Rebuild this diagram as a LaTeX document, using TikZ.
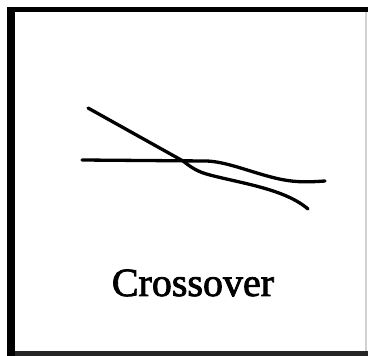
\documentclass[tikz,border=0pt]{standalone}
\usepackage{fontspec}
\setmainfont{Liberation Serif}
\newfontfamily\labelfont[FakeBold=2]{Liberation Serif}
\tikzset{
  curve/.style={line width=3.3pt, line cap=round, black},
  label/.style={font=\labelfont\fontsize{40}{40}\selectfont, inner sep=0pt, anchor=base}
}
\begin{document}
\begin{tikzpicture}[x=1pt,y=-1pt]
\useasboundingbox (0,0) rectangle (368,356);
\fill[white] (0,0) rectangle (368,356);
% frame
\fill[black] (7,7) rectangle (15,356);
\fill[black] (7,7) rectangle (368,12.5);
\fill[black!85] (15,351.5) rectangle (368,356);
\fill[black!18] (365.5,12.5) rectangle (366.8,351.5);
% line 1 (diagonal)
\draw[curve] (88,108) -- (183,161) .. controls (192,168) and (198,172) .. (210,175)
  .. controls (240,183) and (285,189) .. (308,209);
% line 2 (horizontal)
\draw[curve] (82,160) -- (205,161) .. controls (225,161) and (250,172) .. (275,178)
  .. controls (295,183) and (310,182) .. (325,181);
\node[label] (t) at (193,296) {Crossover};
\end{tikzpicture}
\end{document}
